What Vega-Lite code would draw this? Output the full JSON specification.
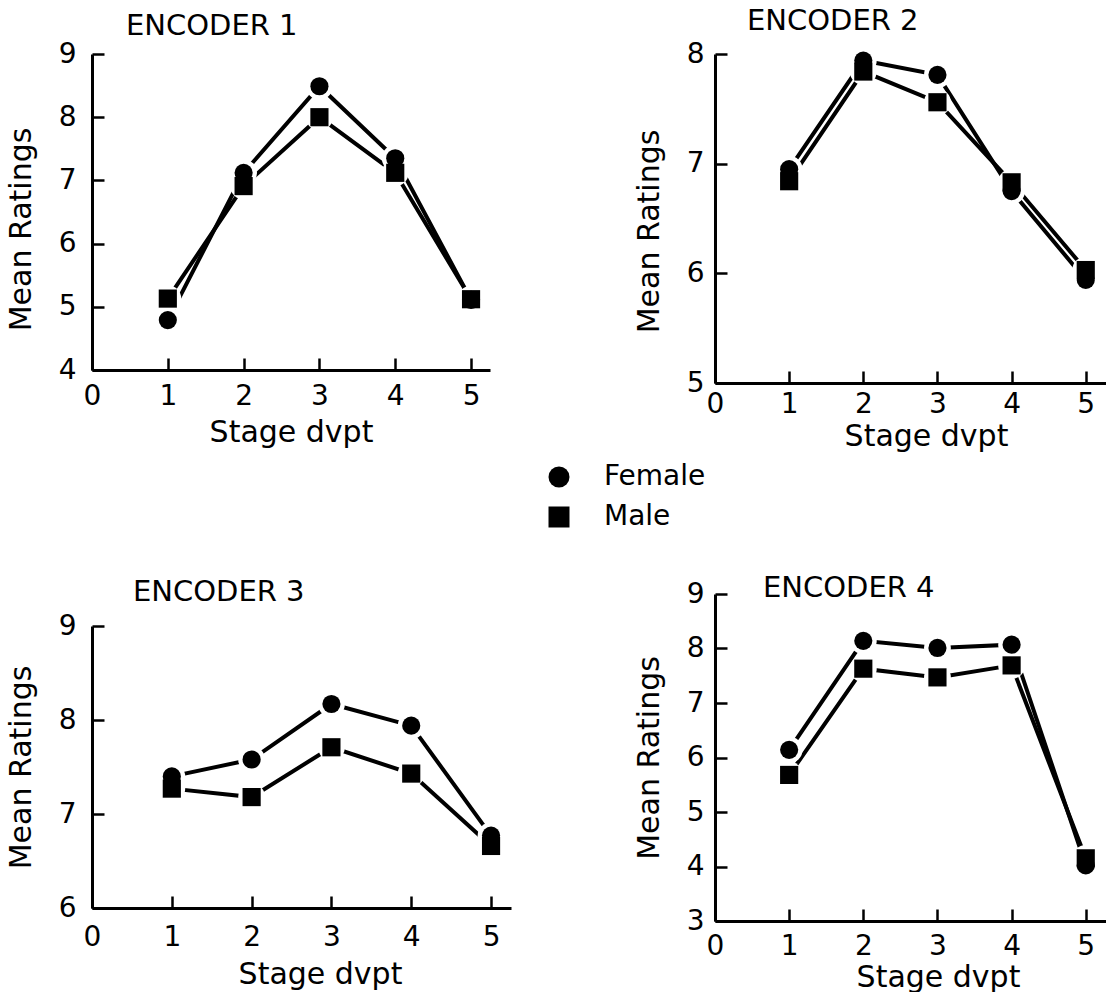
{
  "$schema": "https://vega.github.io/schema/vega-lite/v6.json",
  "padding": {"left": 6, "top": 7, "right": 0, "bottom": 0},
  "background": "white",
  "data": {
    "values": [
      {"encoder": 1, "sex": "Female", "stage": 1, "rating": 4.79},
      {"encoder": 1, "sex": "Female", "stage": 2, "rating": 7.12},
      {"encoder": 1, "sex": "Female", "stage": 3, "rating": 8.49},
      {"encoder": 1, "sex": "Female", "stage": 4, "rating": 7.35},
      {"encoder": 1, "sex": "Female", "stage": 5, "rating": 5.11},
      {"encoder": 1, "sex": "Male", "stage": 1, "rating": 5.13},
      {"encoder": 1, "sex": "Male", "stage": 2, "rating": 6.91},
      {"encoder": 1, "sex": "Male", "stage": 3, "rating": 8.0},
      {"encoder": 1, "sex": "Male", "stage": 4, "rating": 7.12},
      {"encoder": 1, "sex": "Male", "stage": 5, "rating": 5.12},
      {"encoder": 2, "sex": "Female", "stage": 1, "rating": 6.95},
      {"encoder": 2, "sex": "Female", "stage": 2, "rating": 7.94},
      {"encoder": 2, "sex": "Female", "stage": 3, "rating": 7.81},
      {"encoder": 2, "sex": "Female", "stage": 4, "rating": 6.75},
      {"encoder": 2, "sex": "Female", "stage": 5, "rating": 5.94},
      {"encoder": 2, "sex": "Male", "stage": 1, "rating": 6.84},
      {"encoder": 2, "sex": "Male", "stage": 2, "rating": 7.84},
      {"encoder": 2, "sex": "Male", "stage": 3, "rating": 7.56},
      {"encoder": 2, "sex": "Male", "stage": 4, "rating": 6.83},
      {"encoder": 2, "sex": "Male", "stage": 5, "rating": 6.03},
      {"encoder": 3, "sex": "Female", "stage": 1, "rating": 7.4},
      {"encoder": 3, "sex": "Female", "stage": 2, "rating": 7.58},
      {"encoder": 3, "sex": "Female", "stage": 3, "rating": 8.17},
      {"encoder": 3, "sex": "Female", "stage": 4, "rating": 7.94},
      {"encoder": 3, "sex": "Female", "stage": 5, "rating": 6.77},
      {"encoder": 3, "sex": "Male", "stage": 1, "rating": 7.27},
      {"encoder": 3, "sex": "Male", "stage": 2, "rating": 7.18},
      {"encoder": 3, "sex": "Male", "stage": 3, "rating": 7.71},
      {"encoder": 3, "sex": "Male", "stage": 4, "rating": 7.43},
      {"encoder": 3, "sex": "Male", "stage": 5, "rating": 6.66},
      {"encoder": 4, "sex": "Female", "stage": 1, "rating": 6.14},
      {"encoder": 4, "sex": "Female", "stage": 2, "rating": 8.14},
      {"encoder": 4, "sex": "Female", "stage": 3, "rating": 8.01},
      {"encoder": 4, "sex": "Female", "stage": 4, "rating": 8.07},
      {"encoder": 4, "sex": "Female", "stage": 5, "rating": 4.02},
      {"encoder": 4, "sex": "Male", "stage": 1, "rating": 5.68},
      {"encoder": 4, "sex": "Male", "stage": 2, "rating": 7.63},
      {"encoder": 4, "sex": "Male", "stage": 3, "rating": 7.47},
      {"encoder": 4, "sex": "Male", "stage": 4, "rating": 7.69},
      {"encoder": 4, "sex": "Male", "stage": 5, "rating": 4.15}
    ]
  },
  "spacing": 123,
  "resolve": {"scale": {"shape": "shared"}, "legend": {"shape": "shared"}},
  "hconcat": [
    {
      "spacing": 131,
      "resolve": {"scale": {"shape": "shared"}, "legend": {"shape": "shared"}},
      "vconcat": [
        {
          "width": 398, "height": 316,
          "title": {"text": "ENCODER 1", "dx": 34, "offset": -1},
          "transform": [{"filter": "datum.encoder === 1"}],
          "encoding": {
            "x": {"field": "stage", "type": "quantitative", "scale": {"domain": [0, 5.25], "nice": false, "zero": false}, "axis": {"values": [0, 1, 2, 3, 4, 5], "title": "Stage dvpt", "labelPadding": 24, "titlePadding": 7}},
            "y": {"field": "rating", "type": "quantitative", "scale": {"domain": [4, 9], "nice": false, "zero": false}, "axis": {"values": [4, 5, 6, 7, 8, 9], "title": "Mean Ratings", "labelPadding": 28, "titleY": 175}}
          },
          "layer": [
            {"mark": {"type": "line", "color": "black", "strokeWidth": 4}, "encoding": {"detail": {"field": "sex"}}},
            {"mark": {"type": "point", "filled": true, "color": "white", "shape": "circle", "size": 720, "opacity": 1}, "encoding": {"detail": {"field": "sex"}}},
            {"mark": {"type": "point", "filled": true, "color": "black", "size": 330, "opacity": 1}, "encoding": {"shape": {"field": "sex", "type": "nominal", "scale": {"domain": ["Female", "Male"], "range": ["circle", "square"]}, "legend": {"encode": {"symbols": {"fill": {"value": "black"}, "opacity": {"value": 1}}}}}}}
          ]
        },
        {
          "width": 419, "height": 282,
          "title": {"text": "ENCODER 3", "dx": 41, "offset": 5},
          "transform": [{"filter": "datum.encoder === 3"}],
          "encoding": {
            "x": {"field": "stage", "type": "quantitative", "scale": {"domain": [0, 5.25], "nice": false, "zero": false}, "axis": {"values": [0, 1, 2, 3, 4, 5], "title": "Stage dvpt", "labelPadding": 27, "titlePadding": 8, "titleX": 228}},
            "y": {"field": "rating", "type": "quantitative", "scale": {"domain": [6, 9], "nice": false, "zero": false}, "axis": {"values": [6, 7, 8, 9], "title": "Mean Ratings", "labelPadding": 28}}
          },
          "layer": [
            {"mark": {"type": "line", "color": "black", "strokeWidth": 4}, "encoding": {"detail": {"field": "sex"}}},
            {"mark": {"type": "point", "filled": true, "color": "white", "shape": "circle", "size": 720, "opacity": 1}, "encoding": {"detail": {"field": "sex"}}},
            {"mark": {"type": "point", "filled": true, "color": "black", "size": 330, "opacity": 1}, "encoding": {"shape": {"field": "sex", "type": "nominal", "scale": {"domain": ["Female", "Male"], "range": ["circle", "square"]}, "legend": {"encode": {"symbols": {"fill": {"value": "black"}, "opacity": {"value": 1}}}}}}}
          ]
        }
      ]
    },
    {
      "spacing": 123,
      "resolve": {"scale": {"shape": "shared"}, "legend": {"shape": "shared"}},
      "vconcat": [
        {
          "width": 393, "height": 329,
          "title": {"text": "ENCODER 2", "dx": 32, "offset": 4},
          "transform": [{"filter": "datum.encoder === 2"}],
          "encoding": {
            "x": {"field": "stage", "type": "quantitative", "scale": {"domain": [0, 5.3], "nice": false, "zero": false}, "axis": {"values": [0, 1, 2, 3, 4, 5], "title": "Stage dvpt", "labelPadding": 19, "titlePadding": 3, "titleX": 211}},
            "y": {"field": "rating", "type": "quantitative", "scale": {"domain": [5, 8], "nice": false, "zero": false}, "axis": {"values": [5, 6, 7, 8], "title": "Mean Ratings", "labelPadding": 23, "titleY": 177}}
          },
          "layer": [
            {"mark": {"type": "line", "color": "black", "strokeWidth": 4}, "encoding": {"detail": {"field": "sex"}}},
            {"mark": {"type": "point", "filled": true, "color": "white", "shape": "circle", "size": 720, "opacity": 1}, "encoding": {"detail": {"field": "sex"}}},
            {"mark": {"type": "point", "filled": true, "color": "black", "size": 330, "opacity": 1}, "encoding": {"shape": {"field": "sex", "type": "nominal", "scale": {"domain": ["Female", "Male"], "range": ["circle", "square"]}, "legend": {"encode": {"symbols": {"fill": {"value": "black"}, "opacity": {"value": 1}}}}}}}
          ]
        },
        {
          "width": 393, "height": 327,
          "title": {"text": "ENCODER 4", "dx": 48, "offset": -23},
          "transform": [{"filter": "datum.encoder === 4"}],
          "encoding": {
            "x": {"field": "stage", "type": "quantitative", "scale": {"domain": [0, 5.3], "nice": false, "zero": false}, "axis": {"values": [0, 1, 2, 3, 4, 5], "title": "Stage dvpt", "labelPadding": 23, "titlePadding": 2, "titleX": 223}},
            "y": {"field": "rating", "type": "quantitative", "scale": {"domain": [3, 9], "nice": false, "zero": false}, "axis": {"values": [3, 4, 5, 6, 7, 8, 9], "title": "Mean Ratings", "labelPadding": 23}}
          },
          "layer": [
            {"mark": {"type": "line", "color": "black", "strokeWidth": 4}, "encoding": {"detail": {"field": "sex"}}},
            {"mark": {"type": "point", "filled": true, "color": "white", "shape": "circle", "size": 720, "opacity": 1}, "encoding": {"detail": {"field": "sex"}}},
            {"mark": {"type": "point", "filled": true, "color": "black", "size": 330, "opacity": 1}, "encoding": {"shape": {"field": "sex", "type": "nominal", "scale": {"domain": ["Female", "Male"], "range": ["circle", "square"]}, "legend": {"encode": {"symbols": {"fill": {"value": "black"}, "opacity": {"value": 1}}}}}}}
          ]
        }
      ]
    }
  ],
  "config": {
    "font": "DejaVu Sans",
    "view": {"stroke": null},
    "axis": {
      "grid": false,
      "domainColor": "black", "domainWidth": 3,
      "tickColor": "black", "tickWidth": 2.5, "tickSize": -12,
      "labelFont": "DejaVu Sans", "labelFontSize": 28, "labelColor": "black",
      "labelFlush": false, "labelOverlap": false,
      "titleFont": "DejaVu Sans", "titleFontSize": 30, "titleFontWeight": "normal", "titleColor": "black",
      "titlePadding": 22
    },
    "title": {"font": "DejaVu Sans", "fontSize": 29, "fontWeight": "normal", "color": "black", "anchor": "start", "frame": "group", "baseline": "bottom"},
    "legend": {
      "title": null,
      "orient": "none", "legendX": 453, "legendY": 409,
      "labelFont": "DejaVu Sans", "labelFontSize": 28, "labelColor": "black",
      "symbolSize": 441, "labelOffset": 31, "rowPadding": 12
    }
  }
}
